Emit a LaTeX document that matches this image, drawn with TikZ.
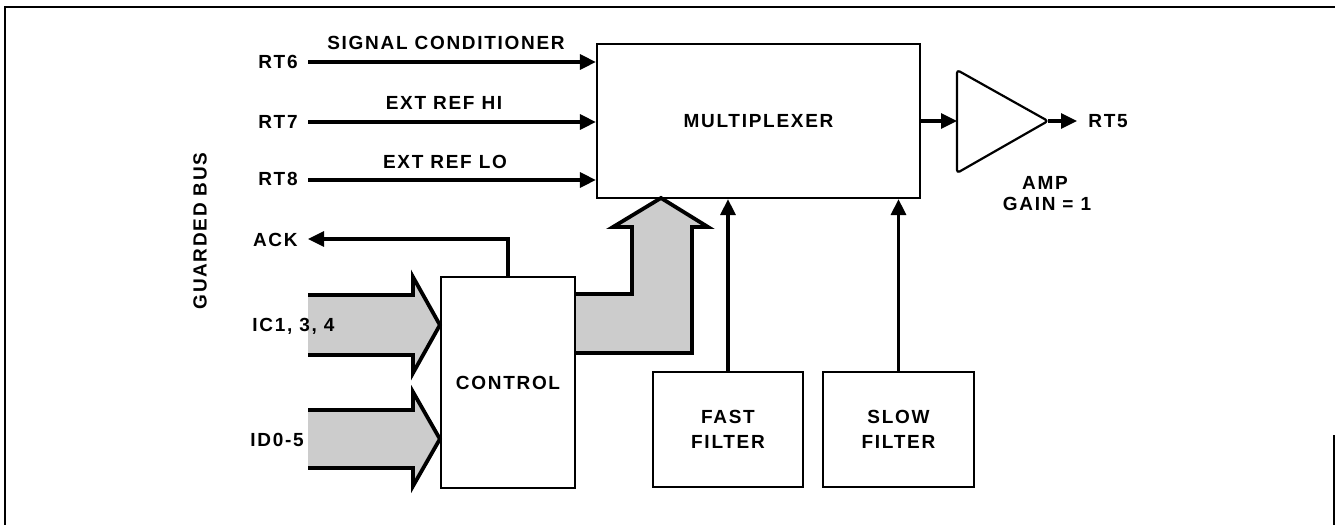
\documentclass[tikz,border=0pt]{standalone}
\usepackage{fontspec}
\setmainfont{Liberation Sans}[LetterSpace=9]
\usetikzlibrary{arrows.meta}
\begin{document}
\begin{tikzpicture}[x=0.5pt,y=-0.5pt,
  lbl/.style={font=\bfseries\fontsize{9.5}{11}\selectfont, inner sep=0pt, align=center},
  blk/.style={draw, line width=1.1pt, inner sep=0pt, lbl},
  sig/.style={line width=1.6pt, -{Triangle[length=8pt,width=7.5pt]}},
  bus/.style={line width=1.9pt, line join=miter},
  busfill/.style={fill=black!20}]
\useasboundingbox (0,0) rectangle (1335,525);
% frame
\draw[line width=1pt] (5,525) -- (5,7) -- (1335,7);
\draw[line width=1pt] (1334,435) -- (1334,525);

% blocks
\node[blk, minimum width=161.5pt, minimum height=77pt] (mux) at (758.5,121) {MULTIPLEXER};
\node[blk, minimum width=67pt, minimum height=105.5pt] (ctrl) at (508,382.5) {CONTROL};
\node[blk, minimum width=75pt, minimum height=57.5pt] (fast) at (728,429.5) {FAST\\[1.5pt]FILTER};
\node[blk, minimum width=75.5pt, minimum height=57.5pt] (slow) at (898.5,429.5) {SLOW\\[1.5pt]FILTER};

% amplifier
\coordinate (ampin) at (957,121);
\coordinate (ampout) at (1048,121);
\coordinate (rt5end) at (1077,121);
\draw[line width=1.1pt, line join=round, rounded corners=1.5pt] (957,70) -- (ampout) -- (957,173) -- cycle;
\node[lbl, anchor=west] (rt5) at (1088,121) {RT5};
\node[lbl] (amplbl) at (1045,183) {AMP};
\node[lbl] (gainlbl) at (1047,204) {GAIN = 1};
\draw[sig] (mux.east) -- (ampin);
\draw[sig] (ampout) -- (rt5end);

% left labels
\node[lbl, rotate=90] (gb) at (200,231) {GUARDED BUS};
\node[lbl, anchor=east] (rt6) at (298,62) {RT6};
\node[lbl, anchor=east] (rt7) at (298,122) {RT7};
\node[lbl, anchor=east] (rt8) at (298,179) {RT8};
\node[lbl, anchor=east] (ack) at (298,240) {ACK};

\node[lbl] (sc) at (446,43) {SIGNAL CONDITIONER};
\node[lbl] (hi) at (444,103) {EXT REF HI};
\node[lbl] (lo) at (445,162) {EXT REF LO};

\coordinate (r6) at (308,62);
\coordinate (r7) at (308,122);
\coordinate (r8) at (308,180);
\draw[sig] (r6) -- (mux.west |- r6);
\draw[sig] (r7) -- (mux.west |- r7);
\draw[sig] (r8) -- (mux.west |- r8);

% ACK
\coordinate (ackend) at (308,239);
\draw[sig] (ctrl.north) -- (ctrl.north |- ackend) -- (ackend);

% filter connectors
\draw[sig] (fast.north) -- (fast.north |- mux.south);
\draw[sig] (slow.north) -- (slow.north |- mux.south);

% input bus arrows
\path[busfill] (308,295) -- (413,295) -- (413,277) -- (ctrl.west |- 0,325) -- (413,373) -- (413,355) -- (308,355) -- cycle;
\draw[bus] (308,295) -- (413,295) -- (413,277) -- (ctrl.west |- 0,325) -- (413,373) -- (413,355) -- (308,355);
\path[busfill] (308,410) -- (413,410) -- (413,392) -- (ctrl.west |- 0,439) -- (413,486) -- (413,468) -- (308,468) -- cycle;
\draw[bus] (308,410) -- (413,410) -- (413,392) -- (ctrl.west |- 0,439) -- (413,486) -- (413,468) -- (308,468);
\node[lbl, anchor=west] (ic) at (252,326) {IC1, 3, 4};
\node[lbl, anchor=west] (id) at (250,440) {ID0-5};

% control to multiplexer bus
\path[busfill] (ctrl.east |- 0,294) -- (632,294) -- (632,227) -- (613,227) -- (661,198) -- (708,227) -- (692,227) -- (692,353) -- (ctrl.east |- 0,353) -- cycle;
\draw[bus] (ctrl.east |- 0,294) -- (632,294) -- (632,227) -- (613,227) -- (661,198) -- (708,227) -- (692,227) -- (692,353) -- (ctrl.east |- 0,353);
\end{tikzpicture}
\end{document}
